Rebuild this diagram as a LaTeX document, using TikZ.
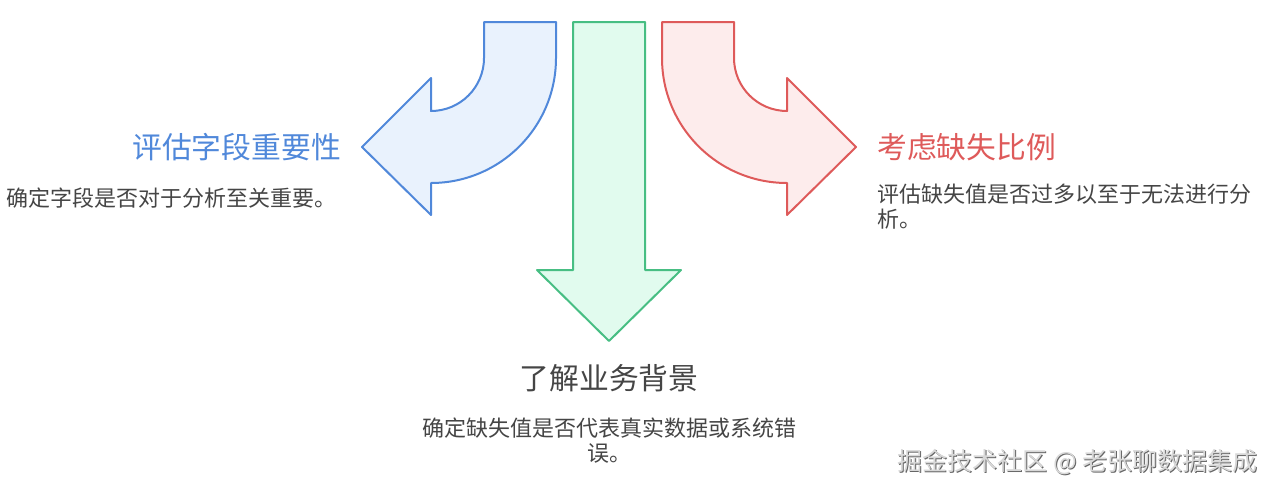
\documentclass[tikz,border=0pt]{standalone}
\usepackage{fontspec}
\setmainfont{Noto Sans CJK SC}
\usetikzlibrary{positioning}
\definecolor{ink}{HTML}{454545}
\definecolor{field}{HTML}{5088DA}
\definecolor{fieldbg}{HTML}{E9F2FD}
\definecolor{context}{HTML}{47BE83}
\definecolor{contextbg}{HTML}{E1FBEE}
\definecolor{ratio}{HTML}{DE5A5A}
\definecolor{ratiobg}{HTML}{FDECEC}
\definecolor{mark}{HTML}{A8A8A8}
\tikzset{
  every node/.style = {text=ink, inner sep=0pt},
  mvbase/.style   = {line width=2pt, line join=round},
  mvfield/.style  = {mvbase, draw=field, fill=fieldbg},
  mvcontext/.style= {mvbase, draw=context, fill=contextbg},
  mvratio/.style  = {mvbase, draw=ratio, fill=ratiobg},
  mvhead/.style   = {font=\fontsize{29.8}{34}\selectfont},
  mvtext/.style   = {font=\fontsize{22}{25}\selectfont},
  mvmark/.style   = {font=\fontsize{25}{29}\selectfont, anchor=east},
}
\begin{document}
\begin{tikzpicture}[x=1pt, y=1pt]
\useasboundingbox (0,0) rectangle (1276,-490);

% three arrows
\draw[mvfield] (484,-22) -- (556,-22) -- (556,-58)
  arc[start angle=0, end angle=-90, radius=125] -- (431,-215) -- (362,-147)
  -- (431,-78) -- (431,-111) arc[start angle=-90, end angle=0, radius=53] -- cycle;
\draw[mvratio] (734,-22) -- (662,-22) -- (662,-58)
  arc[start angle=180, end angle=270, radius=125] -- (787,-215) -- (856,-147)
  -- (787,-78) -- (787,-111) arc[start angle=270, end angle=180, radius=53] -- cycle;
\draw[mvcontext] (573,-22) -- (645,-22) -- (645,-270) -- (681,-270)
  -- (609,-341) -- (537,-270) -- (573,-270) -- cycle;

% labels
\node[mvhead, text=field, anchor=east] (fieldhead) at (341,-147) {评估字段重要性};
\node[mvtext, anchor=west] (fieldtext) at (6,-198) {确定字段是否对于分析至关重要。};

\node[mvhead, text=ratio, anchor=west] (ratiohead) at (877,-147) {考虑缺失比例};
\node[mvtext, anchor=west, align=left] (ratiotext) at (877,-207)
  {评估缺失值是否过多以至于无法进行分\\析。};

\node[mvhead] (contexthead) at (609,-378) {了解业务背景};
\node[mvtext, align=center] (contexttext) at (609,-441)
  {确定缺失值是否代表真实数据或系统错\\误。};

\node[mvmark, text=black!60] (markshadow) at (1259,-462.8) {掘金技术社区 @ 老张聊数据集成};
\node[mvmark, text=mark!45] (watermark) at (1258,-462) {掘金技术社区 @ 老张聊数据集成};
\end{tikzpicture}
\end{document}
